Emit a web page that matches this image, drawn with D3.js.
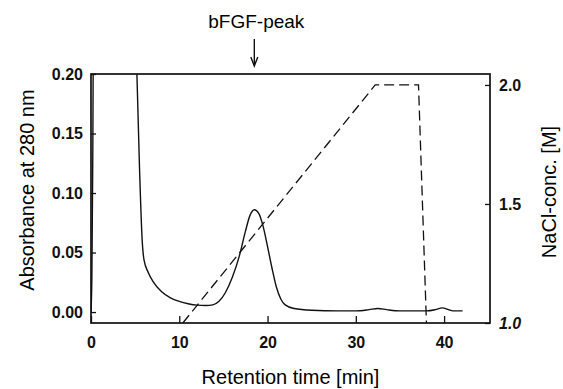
<!DOCTYPE html>
<html>
<head>
<meta charset="utf-8">
<script src="https://cdn.jsdelivr.net/npm/d3@7"></script>
<style>
  body { margin: 0; background: #fff; }
  svg { font-family: "Liberation Sans", Arial, sans-serif; }
  .tick text { font-weight: bold; font-size: 16px; fill: #111; }
  .axis path, .axis line { stroke: #111; stroke-width: 1.3; }
</style>
</head>
<body>
<svg width="563" height="389"></svg>
<script>
// retention time [min] and absorbance at 280 nm
const time = [0, 0.1, 0.2, 0.3, 5.0, 5.2, 5.5, 5.8, 6.0, 6.5, 7, 8, 9, 10, 11, 12, 13, 13.8, 14.5, 15.2, 16, 16.8, 17.5, 18, 18.5, 19, 19.5, 20, 20.5, 21, 21.5, 22, 23, 25, 28, 30, 31.5, 32.5, 33.5, 35, 38, 39, 39.8, 40.5, 41, 42.1];
const absorbance = [0.0, 0.03, 0.13, 0.26, 0.26, 0.20, 0.12, 0.06, 0.044, 0.033, 0.026, 0.017, 0.012, 0.009, 0.007, 0.0058, 0.0055, 0.006, 0.009, 0.016, 0.029, 0.047, 0.068, 0.081, 0.086, 0.083, 0.072, 0.055, 0.037, 0.021, 0.011, 0.006, 0.003, 0.0015, 0.001, 0.001, 0.002, 0.003, 0.002, 0.001, 0.001, 0.002, 0.0035, 0.002, 0.001, 0.001];

// NaCl gradient
const gradTime = [10.4, 32.2, 37.1, 38.0];
const gradConc = [1.0, 2.0, 2.0, 1.0];

const xTicks = [0, 10, 20, 30, 40];
const yTicks = [0, 0.05, 0.10, 0.15, 0.20];
const y2Ticks = [1.0, 1.5, 2.0];
const peakTime = 18.5;

const svg = d3.select('svg');
const margin = {top: 74, right: 73, bottom: 66, left: 91};
const width = +svg.attr('width') - margin.left - margin.right;
const height = +svg.attr('height') - margin.top - margin.bottom;
const g = svg.append('g').attr('transform', `translate(${margin.left}, ${margin.top})`);

const x = d3.scaleLinear().domain([0, 45.2]).range([0, width]);
const y = d3.scaleLinear().domain([-0.0092, 0.20]).range([height, 0]);
const y2 = d3.scaleLinear().domain([1.0, 2.046]).range([height, 0]);

g.append('clipPath').attr('id', 'clip')
  .append('rect').attr('width', width).attr('height', height);

const line = d3.line()
  .x(d => x(d[0]))
  .y(d => y(d[1]))
  .curve(d3.curveMonotoneX);

g.append('path')
  .datum(d3.zip(time, absorbance))
  .attr('clip-path', 'url(#clip)')
  .attr('fill', 'none')
  .attr('stroke', '#111')
  .attr('stroke-width', 1.4)
  .attr('d', line);

const gradLine = d3.line()
  .x(d => x(d[0]))
  .y(d => y2(d[1]));

g.append('path')
  .datum(d3.zip(gradTime, gradConc))
  .attr('fill', 'none')
  .attr('stroke', '#111')
  .attr('stroke-width', 1.3)
  .attr('stroke-dasharray', '10,5')
  .attr('d', gradLine);

// axes, ticks pointing inwards
const fmt2 = d3.format('.2f');
g.append('g')
  .attr('class', 'axis')
  .call(d3.axisLeft(y).tickValues(yTicks).tickSize(-5).tickPadding(8).tickFormat(fmt2))
  .call(a => a.select('.domain').remove());

g.append('g')
  .attr('class', 'axis')
  .attr('transform', `translate(0, ${height})`)
  .call(d3.axisBottom(x).tickValues(xTicks).tickSize(-7).tickPadding(14))
  .call(a => a.select('.domain').remove());

g.append('g')
  .attr('class', 'axis')
  .attr('transform', `translate(${width}, 0)`)
  .call(d3.axisRight(y2).tickValues(y2Ticks).tickSize(-5).tickPadding(9).tickFormat(d3.format('.1f')))
  .call(a => a.select('.domain').remove())
  .call(a => a.selectAll('.tick text').filter(d => d === 1.0).style('font-style', 'italic'));

g.append('rect')
  .attr('width', width).attr('height', height)
  .attr('fill', 'none').attr('stroke', '#111').attr('stroke-width', 1.7);

// titles
svg.append('text')
  .attr('transform', 'translate(34, 190) rotate(-90)')
  .attr('text-anchor', 'middle')
  .attr('font-size', 20)
  .text('Absorbance at 280 nm');

svg.append('text')
  .attr('transform', 'translate(556, 192) rotate(-90)')
  .attr('text-anchor', 'middle')
  .attr('font-size', 20)
  .text('NaCl-conc. [M]');

svg.append('text')
  .attr('x', margin.left + width / 2)
  .attr('y', 384)
  .attr('text-anchor', 'middle')
  .attr('font-size', 20)
  .text('Retention time [min]');

// bFGF peak marker
const px = margin.left + x(peakTime);
svg.append('text')
  .attr('x', px + 2)
  .attr('y', 28)
  .attr('text-anchor', 'middle')
  .attr('font-size', 19)
  .text('bFGF-peak');

svg.append('line')
  .attr('x1', px).attr('x2', px)
  .attr('y1', 39).attr('y2', 64)
  .attr('stroke', '#111').attr('stroke-width', 1.4);
svg.append('path')
  .attr('d', `M${px - 3.5},${57} L${px},${66} L${px + 3.5},${57}`)
  .attr('fill', 'none').attr('stroke', '#111').attr('stroke-width', 1.4);
</script>
</body>
</html>
